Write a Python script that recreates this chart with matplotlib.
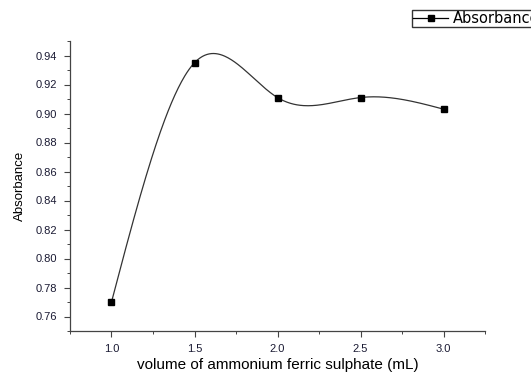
import matplotlib
matplotlib.use("Agg")
import matplotlib.pyplot as plt
import numpy as np

plt.rcParams['font.family'] = ['Liberation Sans', 'DejaVu Sans']

volume = [1.0, 1.5, 2.0, 2.5, 3.0]
absorbance = [0.770, 0.935, 0.911, 0.911, 0.903]
xticks = [1.0, 1.5, 2.0, 2.5, 3.0]
yticks = [0.76, 0.78, 0.80, 0.82, 0.84, 0.86, 0.88, 0.90, 0.92, 0.94]


def natural_spline(x, y, n=300):
    x = np.asarray(x, float)
    y = np.asarray(y, float)
    k = len(x)
    h = np.diff(x)
    A = np.zeros((k, k))
    b = np.zeros(k)
    A[0, 0] = 1
    A[-1, -1] = 1
    for i in range(1, k - 1):
        A[i, i - 1] = h[i - 1]
        A[i, i] = 2 * (h[i - 1] + h[i])
        A[i, i + 1] = h[i]
        b[i] = 6 * ((y[i + 1] - y[i]) / h[i] - (y[i] - y[i - 1]) / h[i - 1])
    m = np.linalg.solve(A, b)
    xs = np.linspace(x[0], x[-1], n)
    idx = np.clip(np.searchsorted(x, xs) - 1, 0, k - 2)
    x0, x1 = x[idx], x[idx + 1]
    hh = x1 - x0
    t0, t1 = x1 - xs, xs - x0
    ys = (m[idx] * t0**3 + m[idx + 1] * t1**3) / (6 * hh) \
        + (y[idx] / hh - m[idx] * hh / 6) * t0 \
        + (y[idx + 1] / hh - m[idx + 1] * hh / 6) * t1
    return xs, ys


fig = plt.figure(figsize=(5.31, 3.72), dpi=100)
ax = fig.add_axes([70 / 531, 41 / 372, 415 / 531, 290 / 372])

xs, ys = natural_spline(volume, absorbance)
ax.plot(xs, ys, color='#333333', lw=0.9)
ax.plot(volume, absorbance, 's', color='black', ms=4.5)

# legend proxy
ax.plot([], [], '-s', color='black', lw=0.9, ms=4, label='Absorbance')

ax.set_xlim(0.75, 3.25)
ax.set_ylim(0.75, 0.95)
ax.set_xticks(xticks)
ax.set_xticks(np.arange(0.75, 3.26, 0.25), minor=True)
ax.set_yticks(yticks)
ax.set_yticks(np.arange(0.75, 0.951, 0.01), minor=True)
ax.set_yticklabels([f'{v:.2f}' for v in yticks])
ax.set_xticklabels([f'{v:.1f}' for v in xticks])

for s in ['top', 'right']:
    ax.spines[s].set_visible(False)
for s in ['left', 'bottom']:
    ax.spines[s].set_color('#444444')
    ax.spines[s].set_linewidth(0.9)

ax.tick_params(which='major', direction='out', length=4, width=0.8,
               labelsize=8, colors='#444444', labelcolor='#1a1a33')
ax.tick_params(which='minor', direction='out', length=2.5, width=0.7,
               colors='#444444')
ax.tick_params(axis='x', pad=5)
ax.tick_params(axis='y', pad=5)

ax.set_xlabel('volume of ammonium ferric sulphate (mL)', fontsize=11, labelpad=3)
ax.set_ylabel('Absorbance', fontsize=9.5, labelpad=7)

fig.legend(loc='upper left', bbox_to_anchor=(412 / 531, 1 - 9.5 / 372),
           prop={'family': 'DejaVu Sans', 'size': 10.5},
           frameon=True, fancybox=False, edgecolor='black',
           handlelength=2.4, handletextpad=0.3, borderpad=0.1,
           borderaxespad=0)

fig.savefig('out.png', dpi=100)
